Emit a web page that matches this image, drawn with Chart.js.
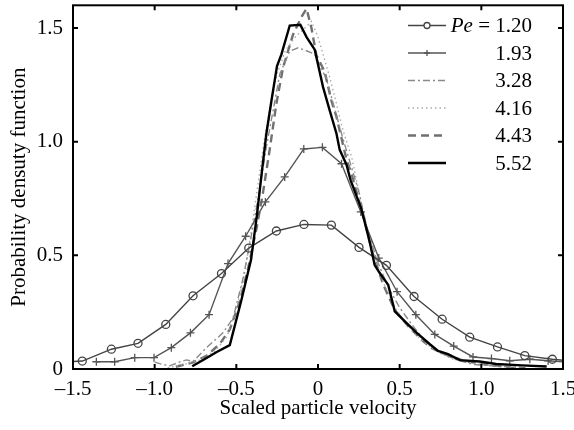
<!DOCTYPE html>
<html>
<head>
<meta charset="utf-8">
<script src="https://cdn.jsdelivr.net/npm/chart.js@4/dist/chart.umd.min.js"></script>
<style>
  html, body { margin: 0; padding: 0; background: #fff; }
  canvas { display: block; }
</style>
</head>
<body>
<canvas id="chart" width="574" height="430"></canvas>
<script>
// Peclet numbers shown in the legend
const pecletLabels = ['1.20', '1.93', '3.28', '4.16', '4.43', '5.52']

// axis ticks
const xTicks = [-1.5, -1.0, -0.5, 0, 0.5, 1.0, 1.5]
const yTicks = [0, 0.5, 1.0, 1.5]

// Pe = 1.20 (circles)
const pe120X = [-1.61, -1.443, -1.265, -1.102, -0.932, -0.765, -0.591, -0.424, -0.255, -0.086, 0.082, 0.251, 0.419, 0.588, 0.76, 0.929, 1.099, 1.266, 1.435, 1.61]
const pe120Y = [0.03, 0.035, 0.087, 0.113, 0.196, 0.322, 0.42, 0.532, 0.607, 0.636, 0.633, 0.535, 0.456, 0.319, 0.219, 0.14, 0.097, 0.059, 0.043, 0.03]

// Pe = 1.93 (plus signs)
const pe193X = [-1.357, -1.245, -1.122, -1.004, -0.898, -0.781, -0.667, -0.551, -0.443, -0.322, -0.204, -0.087, 0.027, 0.144, 0.262, 0.372, 0.484, 0.599, 0.715, 0.831, 0.949, 1.062, 1.174, 1.297, 1.409, 1.53]
const pe193Y = [0.032, 0.032, 0.05, 0.05, 0.094, 0.159, 0.239, 0.464, 0.584, 0.735, 0.845, 0.968, 0.975, 0.903, 0.691, 0.488, 0.34, 0.239, 0.152, 0.101, 0.053, 0.046, 0.036, 0.043, 0.036, 0.03]

// Pe = 3.28 (dash-dot)
const pe328X = [-1.0, -0.95, -0.908, -0.85, -0.806, -0.765, -0.683, -0.582, -0.52, -0.459, -0.408, -0.357, -0.316, -0.275, -0.234, -0.173, -0.122, -0.071, -0.02, 0.011, 0.05, 0.1, 0.15, 0.2, 0.25, 0.3, 0.36, 0.43, 0.5, 0.58, 0.66, 0.75, 0.85, 0.95, 1.1, 1.25]
const pe328Y = [0.03, 0.02, 0.014, 0.03, 0.04, 0.033, 0.094, 0.159, 0.224, 0.398, 0.587, 0.79, 0.978, 1.137, 1.297, 1.398, 1.413, 1.4, 1.385, 1.333, 1.28, 1.15, 1.02, 0.9, 0.78, 0.62, 0.48, 0.36, 0.27, 0.19, 0.12, 0.07, 0.04, 0.02, 0.012, 0.008]

// Pe = 4.16 (dotted)
const pe416X = [-0.92, -0.82, -0.72, -0.63, -0.56, -0.5, -0.45, -0.41, -0.37, -0.33, -0.29, -0.25, -0.2, -0.14, -0.08, -0.04, 0.0, 0.031, 0.072, 0.113, 0.153, 0.205, 0.235, 0.28, 0.33, 0.4, 0.47, 0.55, 0.63, 0.72, 0.82, 0.95, 1.1, 1.25]
const pe416Y = [0.005, 0.02, 0.04, 0.08, 0.14, 0.26, 0.42, 0.6, 0.8, 1.0, 1.17, 1.3, 1.4, 1.46, 1.5, 1.53, 1.46, 1.384, 1.283, 1.167, 1.05, 0.935, 0.833, 0.68, 0.53, 0.38, 0.27, 0.19, 0.13, 0.08, 0.045, 0.025, 0.012, 0.005]

// Pe = 4.43 (dashed)
const pe443X = [-0.87, -0.765, -0.683, -0.602, -0.54, -0.479, -0.428, -0.377, -0.337, -0.296, -0.255, -0.214, -0.153, -0.1, -0.07, -0.04, -0.01, 0.04, 0.082, 0.113, 0.152, 0.175, 0.205, 0.235, 0.276, 0.33, 0.4, 0.47, 0.55, 0.643, 0.7, 0.786, 0.9, 1.031, 1.194, 1.27]
const pe443Y = [0.01, 0.029, 0.058, 0.11, 0.174, 0.297, 0.442, 0.616, 0.775, 0.964, 1.167, 1.326, 1.471, 1.55, 1.585, 1.5, 1.38, 1.31, 1.18, 1.11, 0.99, 0.92, 0.86, 0.78, 0.68, 0.52, 0.37, 0.26, 0.19, 0.123, 0.09, 0.063, 0.035, 0.02, 0.005, 0.003]

// Pe = 5.52 (solid black)
const pe552X = [-0.77, -0.69, -0.62, -0.54, -0.47, -0.41, -0.375, -0.345, -0.316, -0.285, -0.251, -0.224, -0.173, -0.108, -0.07, -0.02, 0.031, 0.072, 0.113, 0.133, 0.174, 0.2, 0.266, 0.317, 0.347, 0.38, 0.43, 0.47, 0.541, 0.603, 0.685, 0.735, 0.796, 0.868, 0.99, 1.09, 1.25, 1.4]
const pe552Y = [0.012, 0.045, 0.075, 0.105, 0.3, 0.48, 0.67, 0.86, 1.036, 1.18, 1.333, 1.384, 1.511, 1.514, 1.46, 1.405, 1.24, 1.137, 1.036, 0.964, 0.9, 0.83, 0.703, 0.558, 0.457, 0.42, 0.37, 0.254, 0.203, 0.16, 0.109, 0.08, 0.065, 0.039, 0.033, 0.022, 0.016, 0.011]

const serif = "'Liberation Serif', 'Times New Roman', serif"

const pairs = function(xs, ys) {
    return xs.map((x, i) => ({ x: x, y: ys[i] }))
}

const fmtTick = function(v) {
    if (v === 0) return '0'
    return (v < 0 ? '\u2013' : '') + Math.abs(v).toFixed(1)
}

// box round the plot area with ticks pointing inwards
const framePlugin = {
    id: 'frame',
    afterDatasetsDraw(chart) {
        const { ctx, chartArea: a, scales } = chart
        const tl = 5
        ctx.save()
        ctx.strokeStyle = '#000'
        ctx.lineWidth = 2
        ctx.setLineDash([])
        ctx.strokeRect(a.left, a.top, a.right - a.left, a.bottom - a.top)
        ctx.beginPath()
        xTicks.forEach((v) => {
            const px = scales.x.getPixelForValue(v)
            ctx.moveTo(px, a.bottom); ctx.lineTo(px, a.bottom - tl)
            ctx.moveTo(px, a.top); ctx.lineTo(px, a.top + tl)
        })
        yTicks.forEach((v) => {
            const py = scales.y.getPixelForValue(v)
            ctx.moveTo(a.left, py); ctx.lineTo(a.left + tl, py)
            ctx.moveTo(a.right, py); ctx.lineTo(a.right - tl, py)
        })
        ctx.stroke()
        ctx.restore()
    }
}

// legend drawn inside the plot, numbers right aligned
const legendPlugin = {
    id: 'peLegend',
    afterDatasetsDraw(chart) {
        const ctx = chart.ctx
        const x1 = 408, x2 = 446, textRight = 532
        chart.data.datasets.forEach((ds, i) => {
            const y = 25.5 + i * 27.5
            ctx.save()
            ctx.strokeStyle = ds.borderColor
            ctx.lineWidth = ds.borderWidth
            ctx.setLineDash(ds.borderDash || [])
            ctx.beginPath()
            ctx.moveTo(x1, y); ctx.lineTo(x2, y)
            ctx.stroke()
            ctx.setLineDash([])
            const cx = (x1 + x2) / 2
            if (ds.pointStyle === 'circle') {
                ctx.fillStyle = '#fff'
                ctx.lineWidth = 1.3
                ctx.beginPath()
                ctx.arc(cx, y, 3, 0, Math.PI * 2)
                ctx.fill(); ctx.stroke()
            } else if (ds.pointStyle === 'cross') {
                ctx.lineWidth = 1.3
                ctx.beginPath()
                ctx.moveTo(cx - 3, y); ctx.lineTo(cx + 3, y)
                ctx.moveTo(cx, y - 3); ctx.lineTo(cx, y + 3)
                ctx.stroke()
            }
            ctx.fillStyle = '#000'
            ctx.textAlign = 'right'
            ctx.textBaseline = 'middle'
            ctx.font = '21px ' + serif
            ctx.fillText(pecletLabels[i], textRight, y + 1)
            if (i === 0) {
                const w = ctx.measureText(pecletLabels[i]).width
                const eq = ' = '
                ctx.fillText(eq, textRight - w, y + 1)
                const we = ctx.measureText(eq).width
                ctx.font = 'italic 21px ' + serif
                ctx.fillText('Pe', textRight - w - we, y + 1)
            }
            ctx.restore()
        })
    }
}

Chart.defaults.font.family = serif
Chart.defaults.font.size = 21
Chart.defaults.color = '#000'

const ctx = document.getElementById('chart')

new Chart(ctx, {
    type: 'line',
    data: {
        datasets: [
            { label: pecletLabels[0], data: pairs(pe120X, pe120Y), borderColor: '#444', borderWidth: 1.4, pointStyle: 'circle', pointRadius: 4, pointBorderWidth: 1.3, pointBackgroundColor: 'rgba(0,0,0,0)', pointBorderColor: '#444' },
            { label: pecletLabels[1], data: pairs(pe193X, pe193Y), borderColor: '#555', borderWidth: 1.4, pointStyle: 'cross', pointRadius: 4, pointBorderWidth: 1.3, pointBorderColor: '#555' },
            { label: pecletLabels[2], data: pairs(pe328X, pe328Y), borderColor: '#8a8a8a', borderWidth: 1.4, borderDash: [7, 3, 2, 3], pointRadius: 0 },
            { label: pecletLabels[3], data: pairs(pe416X, pe416Y), borderColor: '#aaa', borderWidth: 1.4, borderDash: [1.5, 3], pointRadius: 0 },
            { label: pecletLabels[4], data: pairs(pe443X, pe443Y), borderColor: '#707070', borderWidth: 2.4, borderDash: [8, 5], pointRadius: 0 },
            { label: pecletLabels[5], data: pairs(pe552X, pe552Y), borderColor: '#000', borderWidth: 2.4, pointRadius: 0, order: -1 }
        ]
    },
    options: {
        responsive: false,
        animation: false,
        layout: { padding: { left: 0, top: 3, right: 11, bottom: 0 } },
        elements: { line: { tension: 0, fill: false } },
        plugins: {
            legend: { display: false },
            tooltip: { enabled: false }
        },
        scales: {
            x: {
                type: 'linear',
                min: -1.5,
                max: 1.5,
                afterBuildTicks: (s) => { s.ticks = xTicks.map((v) => ({ value: v })) },
                afterFit: (s) => { s.height = 61; s.paddingLeft = 0; s.paddingRight = 0 },
                ticks: { padding: 8, maxRotation: 0, autoSkip: false, callback: (v) => fmtTick(v) },
                grid: { display: false, drawTicks: false },
                border: { display: false },
                title: { display: true, text: 'Scaled particle velocity', padding: { top: 0, bottom: 9 } }
            },
            y: {
                type: 'linear',
                min: 0,
                max: 1.6,
                afterBuildTicks: (s) => { s.ticks = yTicks.map((v) => ({ value: v })) },
                afterFit: (s) => { s.width = 73; s.paddingTop = 0; s.paddingBottom = 0 },
                ticks: { padding: 10, autoSkip: false, callback: (v) => fmtTick(v) },
                grid: { display: false, drawTicks: false },
                border: { display: false },
                title: { display: true, text: 'Probability densuty function', padding: { top: 7, bottom: 0 } }
            }
        }
    },
    plugins: [framePlugin, legendPlugin]
})
</script>
</body>
</html>
